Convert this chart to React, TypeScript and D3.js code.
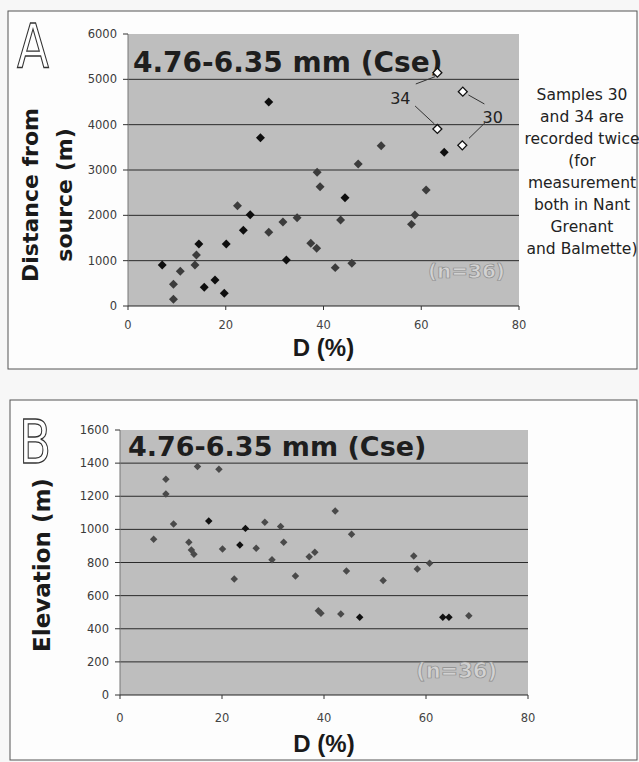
import React from 'react';
import { scaleLinear, symbol, symbolSquare } from 'd3';

// ---- panel A : distance from source vs D
const distDarkD = [28.8, 27.1, 25.0, 23.6, 14.5, 20.1, 32.4, 7.0, 17.8, 15.6, 19.7, 64.7, 44.4];
const distDarkV = [4500, 3713, 2015, 1670, 1368, 1368, 1015, 904, 573, 412, 280, 3390, 2390];
const distGreyD = [38.7, 39.3, 22.4, 31.7, 34.6, 28.8, 37.4, 38.6, 14.0, 13.7, 10.7, 9.3, 9.3, 51.8, 47.1, 61.0, 43.5, 58.7, 58.0, 42.4, 45.8];
const distGreyV = [2949, 2632, 2213, 1853, 1948, 1625, 1383, 1273, 1125, 904, 765, 478, 147, 3537, 3132, 2559, 1897, 2007, 1801, 846, 941];
// samples recorded twice (open markers)
const twiceD = [63.3, 68.5, 63.3, 68.4];
const twiceV = [5147, 4728, 3905, 3544];
const twiceLabel = ['34', '30', '34', '30'];

// ---- panel B : elevation vs D
const elevDarkD = [17.4, 24.6, 23.5, 47.0, 63.3, 64.5];
const elevDarkV = [1051, 1006, 906, 469, 469, 469];
const elevGreyD = [15.2, 19.4, 9.0, 9.0, 10.5, 28.4, 31.5, 6.6, 13.5, 14.0, 14.5, 20.1, 26.7, 32.1, 29.8, 22.4, 34.4, 37.1, 38.2, 38.9, 39.4, 42.2, 45.4, 44.4, 57.6, 58.3, 60.7, 51.6, 43.3, 68.4];
const elevGreyV = [1379, 1363, 1302, 1214, 1033, 1043, 1017, 940, 922, 876, 850, 882, 886, 922, 817, 700, 719, 835, 862, 509, 493, 1111, 970, 749, 839, 761, 795, 692, 489, 479];

const xTicks = [0, 20, 40, 60, 80];
const distTicks = [0, 1000, 2000, 3000, 4000, 5000, 6000];
const elevTicks = [0, 200, 400, 600, 800, 1000, 1200, 1400, 1600];

const titleText = '4.76-6.35 mm (Cse)';
const nText = '(n=36)';
const sideNote = ['Samples 30', 'and 34 are', 'recorded twice', '(for', 'measurement', 'both in Nant', 'Grenant', 'and Balmette)'];

const dv = "'DejaVu Sans', sans-serif";
const lib = "'Liberation Sans', Arial, sans-serif";

const diamondA = symbol(symbolSquare, 40)()!;
const diamondB = symbol(symbolSquare, 28)()!;

const zip = (a: number[], b: number[]) => a.map((d, i) => [d, b[i]]);

function Panel(props: any) {
  const { x, y, ticks, title, titleX, titleY, titleSize, nX, nY, nSize, xLabY, dLabY, children } = props;
  const [x0, x1] = x.range();
  const [y0, y1] = y.range();
  return (
    <g>
      <rect x={x0} y={y1} width={x1 - x0} height={y0 - y1} fill="#bebebe" />
      {ticks.slice(1, -1).map((t: number) => (
        <line key={t} x1={x0} x2={x1} y1={y(t)} y2={y(t)} stroke="#2a2a2a" strokeWidth={1} />
      ))}
      <line x1={x0} x2={x0} y1={y0} y2={y1} stroke="#777" strokeWidth={1} />
      <line x1={x0} x2={x1} y1={y0} y2={y0} stroke="#222" strokeWidth={1.2} />
      {ticks.map((t: number) => (
        <g key={t}>
          <line x1={x0 - 5} x2={x0} y1={y(t)} y2={y(t)} stroke="#333" />
          <text x={x0 - 11} y={y(t) + 4} textAnchor="end" fontFamily={dv} fontSize={11.5} fill="#3a3a3a">
            {t}
          </text>
        </g>
      ))}
      {xTicks.map((t) => (
        <g key={t}>
          <line x1={x(t)} x2={x(t)} y1={y0} y2={y0 + 4} stroke="#333" />
          <text x={x(t)} y={xLabY} textAnchor="middle" fontFamily={dv} fontSize={11.5} fill="#444">
            {t}
          </text>
        </g>
      ))}
      <text x={(x0 + x1) / 2} y={dLabY} textAnchor="middle" fontFamily={lib} fontWeight="bold" fontSize={24} fill="#1a1a1a">
        D (%)
      </text>
      <text x={titleX} y={titleY} fontFamily={dv} fontWeight="bold" fontSize={titleSize} fill="#1e1e1e">
        {title}
      </text>
      <text x={nX} y={nY} textAnchor="end" fontFamily={dv} fontWeight="bold" fontSize={nSize} fill="#d2d2d2" stroke="#8c8c8c" strokeWidth={0.7}>
        {nText}
      </text>
      {children}
    </g>
  );
}

export default function App() {
  const xA = scaleLinear().domain([0, 80]).range([128, 519]);
  const yA = scaleLinear().domain([0, 6000]).range([306, 34]);
  const xB = scaleLinear().domain([0, 80]).range([120, 528]);
  const yB = scaleLinear().domain([0, 1600]).range([695, 430]);

  const openPts = zip(twiceD, twiceV);
  // leader lines: offsets from the open marker toward its label
  const leaders = [
    [-2.3, 4, -21.6, 11.3],
    [5.6, 3.3, 21.6, 12.3],
    [-3, -5, -22.3, -23],
    [6.7, -7, 22.7, -22.6],
  ];

  return (
    <svg width={639} height={762} style={{ position: 'absolute', left: 0, top: 0, background: '#f7f7f7' }}>
      {/* frames */}
      <rect x={8} y={11} width={629} height={358} fill="#fdfdfd" stroke="#555" strokeWidth={1} />
      <rect x={10} y={400} width={627} height={360} fill="#fdfdfd" stroke="#555" strokeWidth={1} />

      {/* panel letters */}
      <text transform="translate(17,67) scale(0.78,1)" fontFamily={dv} fontSize={60} fill="#fff" stroke="#333" strokeWidth={1.3}>A</text>
      <text transform="translate(19,463) scale(0.78,1)" fontFamily={dv} fontSize={60} fill="#fff" stroke="#333" strokeWidth={1.3}>B</text>

      {/* y titles */}
      <text transform="translate(38,195) rotate(-90)" textAnchor="middle" fontFamily={dv} fontWeight="bold" fontSize={22} fill="#1a1a1a">Distance from</text>
      <text transform="translate(72,195) rotate(-90)" textAnchor="middle" fontFamily={dv} fontWeight="bold" fontSize={22} fill="#1a1a1a">source (m)</text>
      <text transform="translate(50,565) rotate(-90)" textAnchor="middle" fontFamily={dv} fontWeight="bold" fontSize={23} fill="#1a1a1a">Elevation (m)</text>

      <Panel x={xA} y={yA} ticks={distTicks} title={titleText}
        titleX={133} titleY={72} titleSize={28} nX={505} nY={278} nSize={20} xLabY={329} dLabY={356}>
        {zip(distGreyD, distGreyV).map(([d, v], i) => (
          <path key={'g' + i} d={diamondA} transform={`translate(${xA(d)},${yA(v)}) rotate(45)`} fill="#3c3c3c" />
        ))}
        {zip(distDarkD, distDarkV).map(([d, v], i) => (
          <path key={'k' + i} d={diamondA} transform={`translate(${xA(d)},${yA(v)}) rotate(45)`} fill="#0e0e0e" />
        ))}
        {openPts.map(([d, v], i) => {
          const [a, b, c, e] = leaders[i];
          return (
            <line key={'l' + i} x1={xA(d) + a} y1={yA(v) + b} x2={xA(d) + c} y2={yA(v) + e} stroke="#333" strokeWidth={1} />
          );
        })}
        {openPts.map(([d, v], i) => (
          <path key={'o' + i} d={diamondA} transform={`translate(${xA(d)},${yA(v)}) rotate(45)`} fill="#fff" stroke="#111" strokeWidth={1.3} />
        ))}
        <text x={xA(twiceD[0]) - 37} y={yA(twiceV[0]) + 31} textAnchor="middle" fontFamily={dv} fontSize={16} fill="#222">{twiceLabel[0]}</text>
        <text x={xA(twiceD[1]) + 30} y={yA(twiceV[1]) + 31} textAnchor="middle" fontFamily={dv} fontSize={16} fill="#222">{twiceLabel[1]}</text>
        {sideNote.map((s, i) => (
          <text key={s} x={582} y={100 + i * 22} textAnchor="middle" fontFamily={dv} fontSize={15.5} fill="#222">{s}</text>
        ))}
      </Panel>

      <Panel x={xB} y={yB} ticks={elevTicks} title={titleText}
        titleX={128} titleY={456} titleSize={27} nX={497} nY={678} nSize={21} xLabY={722} dLabY={752}>
        {zip(elevGreyD, elevGreyV).map(([d, v], i) => (
          <path key={'g' + i} d={diamondB} transform={`translate(${xB(d)},${yB(v)}) rotate(45)`} fill="#4a4a4a" />
        ))}
        {zip(elevDarkD, elevDarkV).map(([d, v], i) => (
          <path key={'k' + i} d={diamondB} transform={`translate(${xB(d)},${yB(v)}) rotate(45)`} fill="#111" />
        ))}
      </Panel>
    </svg>
  );
}
